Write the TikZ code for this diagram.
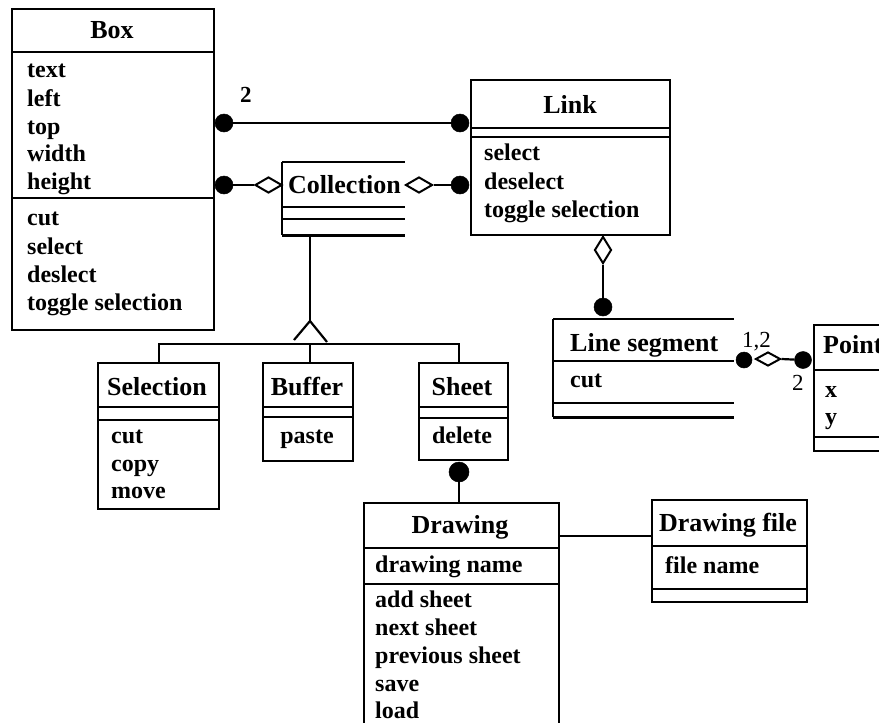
\documentclass[tikz,border=0pt]{standalone}
\usepackage{fontspec}
\setmainfont{Liberation Serif}
\usetikzlibrary{shapes.geometric}
\begin{document}
\begin{tikzpicture}[x=1pt,y=-1pt,
  cls/.style={draw, line width=2.2pt, fill=white, inner sep=0pt, anchor=north west},
  ghost/.style={inner sep=0pt, anchor=north west},
  rule/.style={line width=2.2pt},
  conn/.style={line width=2.2pt},
  title/.style={font=\fontsize{26}{30}\selectfont\bfseries, inner sep=0pt, anchor=base},
  titlel/.style={font=\fontsize{26}{30}\selectfont\bfseries, inner sep=0pt, anchor=base west},
  item/.style={font=\fontsize{24}{28}\selectfont\bfseries, inner sep=0pt, anchor=base west},
  itemc/.style={font=\fontsize{24}{28}\selectfont\bfseries, inner sep=0pt, anchor=base},
  mult/.style={font=\fontsize{23}{28}\selectfont, inner sep=0pt, anchor=base west},
  multb/.style={font=\fontsize{23}{28}\selectfont\bfseries, inner sep=0pt, anchor=base west},
  dot/.style={circle, fill=black, draw=black, line width=0.5pt, inner sep=0pt, minimum size=#1},
  dot/.default=18pt,
  agg/.style={diamond, draw=black, fill=white, line width=2pt, inner sep=0pt, minimum width=27pt, minimum height=16pt},
  aggv/.style={diamond, draw=black, fill=white, line width=2pt, inner sep=0pt, minimum width=17pt, minimum height=27pt},
]
\useasboundingbox (0,0) rectangle (879,723);
\clip (0,0) rectangle (879,723);
\fill[white] (0,0) rectangle (879,723);

% ---------- class Box ----------
\node[cls, minimum width=202pt, minimum height=321pt] (box) at (11,8) {};
\draw[rule] (box.west |- 0,52) -- (box.east |- 0,52);
\draw[rule] (box.west |- 0,198) -- (box.east |- 0,198);
\node[title] (boxT) at (112,38) {Box};
\node[item] (boxA1) at (27,77) {text};
\node[item] (boxA2) at (27,106) {left};
\node[item] (boxA3) at (27,134) {top};
\node[item] (boxA4) at (27,161) {width};
\node[item] (boxA5) at (27,189) {height};
\node[item] (boxO1) at (27,225) {cut};
\node[item] (boxO2) at (27,254) {select};
\node[item] (boxO3) at (27,282) {deslect};
\node[item] (boxO4) at (27,310) {toggle selection};

% ---------- class Link ----------
\node[cls, minimum width=199pt, minimum height=155pt] (link) at (470,79) {};
\draw[rule] (link.west |- 0,128) -- (link.east |- 0,128);
\draw[rule] (link.west |- 0,137) -- (link.east |- 0,137);
\node[title] (linkT) at (570,113) {Link};
\node[item] (linkO1) at (484,160) {select};
\node[item] (linkO2) at (484,189) {deselect};
\node[item] (linkO3) at (484,217) {toggle selection};

% ---------- class Collection (open on the right) ----------
\node[ghost, minimum width=123pt, minimum height=73pt] (coll) at (282,162) {};
\draw[rule] (coll.north west) -- (coll.south west);
\draw[rule] (coll.north west) -- (coll.north east);
\draw[rule] (coll.west |- 0,207) -- (coll.east |- 0,207);
\draw[rule] (coll.west |- 0,219) -- (coll.east |- 0,219);
\draw[rule] (coll.south west) -- (coll.south east);
\node[titlel] (collT) at (288,193) {Collection};

% ---------- subclasses ----------
\node[cls, minimum width=121pt, minimum height=146pt] (sel) at (97,362) {};
\draw[rule] (sel.west |- 0,407) -- (sel.east |- 0,407);
\draw[rule] (sel.west |- 0,420) -- (sel.east |- 0,420);
\node[title] (selT) at (157,395) {Selection};
\node[item] (selO1) at (111,443) {cut};
\node[item] (selO2) at (111,471) {copy};
\node[item] (selO3) at (111,498) {move};

\node[cls, minimum width=90pt, minimum height=98pt] (buf) at (262,362) {};
\draw[rule] (buf.west |- 0,407) -- (buf.east |- 0,407);
\draw[rule] (buf.west |- 0,417) -- (buf.east |- 0,417);
\node[title] (bufT) at (307,395) {Buffer};
\node[itemc] (bufO1) at (307,443) {paste};

\node[cls, minimum width=89pt, minimum height=97pt] (sheet) at (418,362) {};
\draw[rule] (sheet.west |- 0,407) -- (sheet.east |- 0,407);
\draw[rule] (sheet.west |- 0,418) -- (sheet.east |- 0,418);
\node[title] (sheetT) at (462,395) {Sheet};
\node[itemc] (sheetO1) at (462,443) {delete};

% ---------- class Drawing ----------
\node[cls, minimum width=195pt, minimum height=240pt] (drw) at (363,502) {};
\draw[rule] (drw.west |- 0,548) -- (drw.east |- 0,548);
\draw[rule] (drw.west |- 0,584) -- (drw.east |- 0,584);
\node[title] (drwT) at (460,533) {Drawing};
\node[item] (drwA1) at (375,572) {drawing name};
\node[item] (drwO1) at (375,607) {add sheet};
\node[item] (drwO2) at (375,635) {next sheet};
\node[item] (drwO3) at (375,663) {previous sheet};
\node[item] (drwO4) at (375,691) {save};
\node[item] (drwO5) at (375,718) {load};

% ---------- class Drawing file ----------
\node[cls, minimum width=155pt, minimum height=102pt] (dfile) at (651,499) {};
\draw[rule] (dfile.west |- 0,546) -- (dfile.east |- 0,546);
\draw[rule] (dfile.west |- 0,589) -- (dfile.east |- 0,589);
\node[title] (dfileT) at (728,531) {Drawing file};
\node[item] (dfileA1) at (665,573) {file name};

% ---------- class Line segment (open on the right) ----------
\node[ghost, minimum width=181pt, minimum height=98pt] (lseg) at (553,319) {};
\draw[rule] (lseg.north west) -- (lseg.south west);
\draw[rule] (lseg.north west) -- (lseg.north east);
\draw[rule] (lseg.west |- 0,361) -- (lseg.east |- 0,361);
\draw[rule] (lseg.west |- 0,403) -- (lseg.east |- 0,403);
\draw[rule] (lseg.south west) -- (lseg.south east);
\node[titlel] (lsegT) at (570,351) {Line segment};
\node[item] (lsegO1) at (570,387) {cut};

% ---------- class Point ----------
\node[cls, minimum width=100pt, minimum height=126pt] (pt) at (813,324) {};
\draw[rule] (pt.west |- 0,370) -- (pt.east |- 0,370);
\draw[rule] (pt.west |- 0,437) -- (pt.east |- 0,437);
\node[titlel] (ptT) at (823,353) {Point};
\node[item] (ptA1) at (825,397) {x};
\node[item] (ptA2) at (825,424) {y};

% ---------- Box -- Link ----------
\node[dot] (d1) at (224,123) {};
\node[dot] (d2) at (460,123) {};
\draw[conn] (d1) -- (d2);
\node[multb] (m1) at (240,102) {2};

% ---------- Box -- Collection -- Link ----------
\node[dot] (d3) at (224,185) {};
\node[agg] (a1) at (268.5,185) {};
\draw[conn] (d3) -- (a1.west);
\node[agg] (a2) at (419,185) {};
\node[dot] (d4) at (460,185) {};
\draw[conn] (a2.east) -- (d4);

% ---------- generalisation of Collection ----------
\coordinate (gApex) at (310,321);
\coordinate (gBar) at (310,344);
\draw[conn] (coll.south west -| gApex) -- (gApex);
\draw[conn] (294,340) -- (gApex) -- (327,342);
\draw[conn] (sel.north -| 159,0) -- (159,344) -- (459,344) -- (sheet.north -| 459,0);
\draw[conn] (gBar) -- (buf.north -| gBar);

% ---------- Link -- Line segment ----------
\node[aggv] (a3) at (603,250) {};
\node[dot] (d5) at (603,307) {};
\draw[conn] (a3.south) -- (d5);

% ---------- Line segment -- Point ----------
\node[dot=16pt] (d6) at (744,360) {};
\node[agg, minimum width=25pt, minimum height=14pt] (a4) at (768,359) {};
\node[dot=17pt] (d7) at (803,360) {};
\draw[conn] (a4.east) -- (d7);
\node[mult] (m2) at (742,347) {1,2};
\node[mult] (m3) at (792,390) {2};

% ---------- Sheet -- Drawing ----------
\node[dot=20pt] (d8) at (459,472) {};
\draw[conn] (d8) -- (drw.north -| d8);

% ---------- Drawing -- Drawing file ----------
\draw[conn] (drw.east |- 0,536) -- (dfile.west |- 0,536);
\end{tikzpicture}
\end{document}
